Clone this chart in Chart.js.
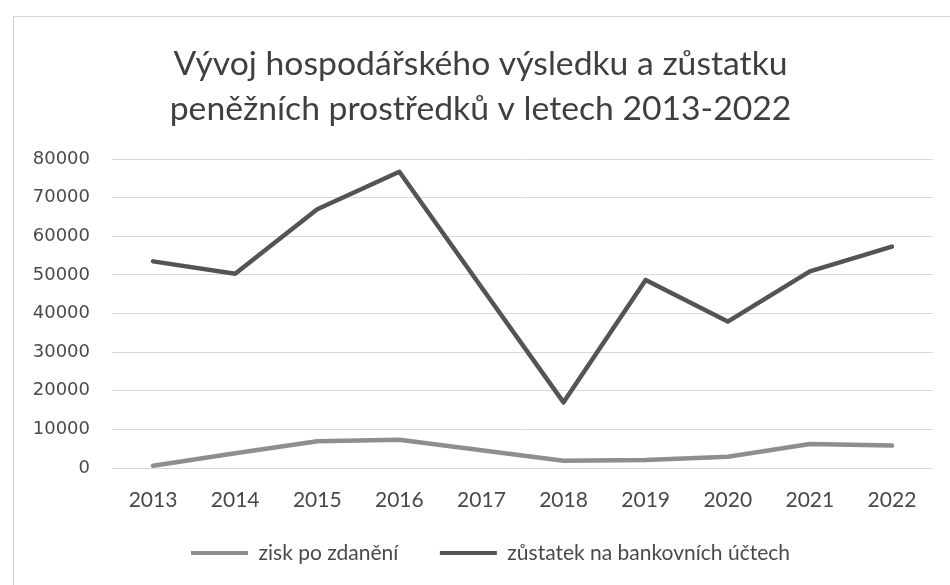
<!DOCTYPE html>
<html>
<head>
<meta charset="utf-8">
<script src="https://cdn.jsdelivr.net/npm/chart.js@4/dist/chart.umd.min.js"></script>
<style>
  html, body { margin: 0; padding: 0; background: #ffffff; }
  body { width: 950px; height: 585px; overflow: hidden; position: relative; }
  #frame { position: absolute; left: 13px; top: 16px; width: 950px; height: 600px;
           border-left: 1px solid #cfcfcf; border-top: 1px solid #d6d6d6; }
  #wrap { position: absolute; left: 14px; top: 17px; width: 936px; height: 568px; }
</style>
</head>
<body>
<div id="frame"></div>
<div id="wrap"><canvas id="c"></canvas></div>
<script>
const categories = ["2013", "2014", "2015", "2016", "2017", "2018", "2019", "2020", "2021", "2022"];
const ziskPoZdaneni = [600, 3800, 6900, 7300, 4600, 1900, 2100, 2900, 6200, 5800];
const zustatekNaUctech = [53500, 50300, 67000, 76700, 46800, 17000, 48700, 37900, 50900, 57300];
const seriesNames = ["zisk po zdanění", "zůstatek na bankovních účtech"];
const titleLines = ["Vývoj hospodářského výsledku a zůstatku", "peněžních prostředků v letech 2013-2022"];
const yTicks = [0, 10000, 20000, 30000, 40000, 50000, 60000, 70000, 80000];

const lightColor = "#8e8e8e";
const darkColor = "#545454";

// nudges the legend row sideways to sit where the original one does
const legendShift = {
  id: "legendShift",
  afterLayout(chart) { if (chart.legend) { chart.legend.left += 10; chart.legend.right += 10; } }
};

new Chart(document.getElementById("c"), {
  type: "line",
  data: {
    labels: categories,
    datasets: [
      { label: seriesNames[0], data: ziskPoZdaneni, borderColor: lightColor, backgroundColor: lightColor,
        borderWidth: 4.5, pointRadius: 0, tension: 0, borderJoinStyle: "round", borderCapStyle: "round" },
      { label: seriesNames[1], data: zustatekNaUctech, borderColor: darkColor, backgroundColor: darkColor,
        borderWidth: 4.5, pointRadius: 0, tension: 0, borderJoinStyle: "round", borderCapStyle: "round" }
    ]
  },
  plugins: [legendShift],
  options: {
    responsive: true,
    maintainAspectRatio: false,
    animation: false,
    layout: { padding: { left: 14, right: 17, top: 0, bottom: 11.5 } },
    plugins: {
      title: {
        display: true,
        text: titleLines,
        color: "#3f3f3f",
        font: { family: "Lato", size: 33.7, weight: "normal", lineHeight: 45 / 33.7 },
        padding: { top: 25, bottom: 27 }
      },
      legend: {
        position: "bottom",
        labels: {
          color: "#4a4a4a",
          font: { family: "Lato", size: 21 },
          boxWidth: 57,
          boxHeight: 4,
          padding: 10,
          generateLabels: (chart) => chart.data.datasets.map((ds, i) => ({
            text: i === 0 ? ds.label + "\u2003\u2003" : ds.label,
            fillStyle: ds.borderColor, strokeStyle: ds.borderColor,
            lineWidth: 0, hidden: false, datasetIndex: i, fontColor: "#4a4a4a"
          }))
        }
      },
      tooltip: { enabled: false }
    },
    scales: {
      x: {
        offset: true,
        afterFit: (s) => { s.height = 64.5; },
        grid: { display: false, drawTicks: false },
        border: { display: false },
        ticks: { color: "#484848", font: { family: "Lato", size: 21 }, padding: 20, maxRotation: 0 }
      },
      y: {
        min: 0, max: 80000,
        afterFit: (s) => { s.width = 84; },
        afterBuildTicks: (s) => { s.ticks = yTicks.map(v => ({ value: v })); },
        grid: { color: "#d9d9d9", lineWidth: 1, drawTicks: false },
        border: { display: false },
        ticks: { color: "#4a4a4a", font: { family: "DejaVu Sans", size: 18 }, padding: 22,
                 callback: (v) => String(v) }
      }
    }
  }
});
</script>
</body>
</html>
